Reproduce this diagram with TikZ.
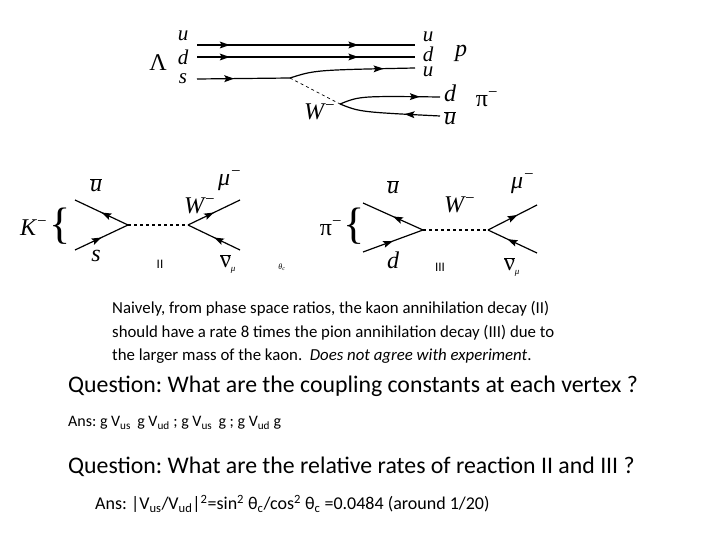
\documentclass[tikz,border=0pt]{standalone}
\usepackage{fontspec}
\setmainfont{Carlito}
\newfontfamily\phys{Liberation Serif}
\usetikzlibrary{decorations.markings,arrows.meta}
\newcommand\ob[1]{\ensuremath{\overline{\hbox{#1}}}}
\frenchspacing
\tikzset{myarr/.tip={Stealth[length=10pt,width=7pt,inset=2pt,line width=0pt]}}
\begin{document}
\begin{tikzpicture}[x=1pt,y=-1pt,
  fl/.style={line width=1.2pt,postaction={decorate},decoration={markings,mark=at position #1 with {\arrow{myarr}}}},
  fl/.default=0.5,
  wline/.style={line width=1.2pt,dashed},
  lab/.style={font=\phys\itshape\fontsize{24}{24}\selectfont,inner sep=0},
  tlab/.style={font=\phys\itshape\fontsize{21}{21}\selectfont,inner sep=0},
  up/.style={font=\phys\fontsize{24}{24}\selectfont,inner sep=0},
  brc/.style={font=\phys\fontsize{44}{44}\selectfont,inner sep=0},
  txt/.style={anchor=west,inner sep=0,font=\fontsize{16.8}{18}\selectfont},
  qs/.style={anchor=west,inner sep=0,font=\fontsize{23.8}{26}\selectfont}]
\useasboundingbox (0,0) rectangle (720,540);
% top diagram
\coordinate (a1) at (197,45); \coordinate (b1) at (415,45);
\coordinate (a2) at (197,57); \coordinate (b2) at (415,57);
\coordinate (a3) at (197,79); \coordinate (v) at (290,78); \coordinate (b3) at (415,68);
\coordinate (w) at (340,104);
\coordinate (c1) at (440,97); \coordinate (c2) at (440,116);
\draw[line width=1.2pt,postaction={decorate},decoration={markings,mark=at position 0.15 with {\arrow{myarr}},mark=at position 0.74 with {\arrow{myarr}}}] (a1) -- (b1);
\draw[line width=1.2pt,postaction={decorate},decoration={markings,mark=at position 0.15 with {\arrow{myarr}},mark=at position 0.74 with {\arrow{myarr}}}] (a2) -- (b2);
\draw[fl=0.4] (a3) -- (v);
\draw[fl=0.75] (v) .. controls (315,70) .. (b3);
\draw[dashed,line width=0.7pt] (v) -- (w);
\draw[fl=0.8] (w) .. controls (360,96) .. (c1);
\draw[fl=0.35] (c2) .. controls (360,112) .. (w);
\node[tlab] (tu) at (183,36) {u};
\node[tlab] (td) at (183,57) {d};
\node[tlab] (ts) at (183,79) {s};
\node[up] (tl) at (158,63) {Λ};
\node[tlab] (ru) at (428,37) {u};
\node[tlab] (rd) at (428,54) {d};
\node[tlab] (ru2) at (428,72) {u};
\node[lab] (rp) at (461,53) {p};
\node[lab] (pd) at (450,93) {d};
\node[lab] (pu) at (450,118) {\ob{u}};
\node[up] (pp) at (487,99) {π\textsuperscript{−}};
\node[lab] (tw) at (320,112) {W\textsuperscript{−}};
% lower left
\coordinate (k1) at (75,200); \coordinate (k2) at (75,250); \coordinate (kv) at (128,225);
\coordinate (kw) at (188,225); \coordinate (m1) at (240,200); \coordinate (m2) at (240,250);
\draw[fl] (kv) -- (k1);
\draw[fl] (k2) -- (kv);
\draw[wline] (kv) -- (kw);
\draw[fl] (kw) -- (m1);
\draw[fl] (m2) -- (kw);
\node[lab] (kk) at (34,228) {K\textsuperscript{−}};
\node[brc] (kb) at (60,226) {\{};
\node[lab] (kub) at (96,185) {\ob{u}};
\node[lab] (ks) at (96,256) {s};
\node[lab] (kW) at (200,206) {W\textsuperscript{−}};
\node[lab] (kmu) at (230,181) {μ\textsuperscript{−}};
\node[up] (knu) at (228,264) {\ob{ν}\textsubscript{\itshape\fontsize{9}{9}\selectfont μ}};
\node[inner sep=0,font=\fontsize{13}{13}\selectfont] (kII) at (160,264) {II};
\node[inner sep=0,font=\phys\itshape\fontsize{8}{8}\selectfont] (th) at (282,267) {θ\textsubscript{c}};
% lower right
\coordinate (p1) at (363,203); \coordinate (p2) at (363,252); \coordinate (pv) at (423,230);
\coordinate (pw) at (488,230); \coordinate (n1) at (537,205); \coordinate (n2) at (537,253);
\draw[fl] (pv) -- (p1);
\draw[fl] (p2) -- (pv);
\draw[wline] (pv) -- (pw);
\draw[fl=0.6] (pw) -- (n1);
\draw[fl=0.6] (n2) -- (pw);
\node[up] (pk) at (331,228) {π\textsuperscript{−}};
\node[brc] (pb) at (354,226) {\{};
\node[lab] (pub) at (393,187) {\ob{u}};
\node[lab] (pdd) at (393,260) {d};
\node[lab] (pW) at (460,205) {W\textsuperscript{−}};
\node[lab] (pmu) at (523,184) {μ\textsuperscript{−}};
\node[up] (pnu) at (512,267) {\ob{ν}\textsubscript{\itshape\fontsize{9}{9}\selectfont μ}};
\node[inner sep=0,font=\fontsize{13}{13}\selectfont] (pIII) at (440,267) {III};
% text
\node[txt] (t1) at (112,309) {Naively, from phase space ratios, the kaon annihilation decay (II)};
\node[txt] (t2) at (112,333) {should have a rate 8 times the pion annihilation decay (III) due to};
\node[txt] (t3) at (112,356) {the larger mass of the kaon. \textit{ Does not agree with experiment}.};
\node[qs] (q1) at (68,386) {Question: What are the coupling constants at each vertex ?};
\node[txt,font=\fontsize{16}{18}\selectfont] (a1t) at (68,423) {Ans: g V\textsubscript{us}\, g V\textsubscript{ud} ; g V\textsubscript{us}\, g ; g V\textsubscript{ud} g};
\node[qs] (q2) at (68,467) {Question: What are the relative rates of reaction II and III ?};
\node[txt,font=\fontsize{18}{20}\selectfont] (a2t) at (95,504) {Ans: |V\textsubscript{us}/V\textsubscript{ud}|\textsuperscript{2}=sin\textsuperscript{2} θ\textsubscript{c}/cos\textsuperscript{2} θ\textsubscript{c} =0.0484 (around 1/20)};
\end{tikzpicture}
\end{document}
